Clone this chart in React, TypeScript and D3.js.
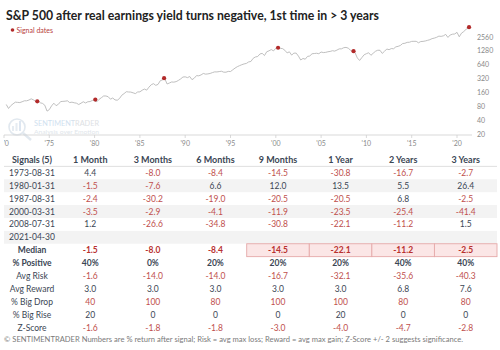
import React from 'react';
import * as d3 from 'd3';

// S&P 500, approximate quarter-end closes from 1970 Q1
const spxStartYear = 1970;
const spxQuarterly = [
  89, 73, 84, 92, 100, 99, 98, 102, 107, 107, 111, 118, 112, 104, 108, 97,
  94, 86, 64, 69, 83, 95, 84, 90, 103, 104, 105, 107, 98, 100, 97, 95,
  89, 95, 102, 96, 102, 103, 109, 108, 102, 115, 125, 136, 136, 131, 116, 123,
  112, 110, 120, 141, 153, 168, 166, 165, 159, 153, 166, 167, 181, 192, 182, 211,
  238, 251, 231, 242, 291, 304, 321, 247, 259, 273, 271, 278, 295, 318, 349, 353,
  339, 358, 306, 330, 375, 371, 388, 417, 403, 408, 417, 435, 451, 450, 458, 466,
  445, 444, 462, 459, 500, 544, 584, 615, 645, 670, 687, 740, 757, 885, 947, 970,
  1101, 1133, 1017, 1229, 1286, 1372, 1282, 1469, 1498, 1454, 1436, 1320, 1160, 1224, 1040, 1148,
  1147, 989, 815, 879, 848, 974, 995, 1111, 1126, 1140, 1114, 1211, 1180, 1191, 1228, 1248,
  1294, 1270, 1335, 1418, 1420, 1503, 1526, 1468, 1322, 1280, 1166, 903, 797, 919, 1057, 1115,
  1169, 1030, 1141, 1257, 1325, 1320, 1131, 1257, 1408, 1362, 1440, 1426, 1569, 1606, 1681, 1848,
  1872, 1960, 1972, 2058, 2067, 2063, 1920, 2043, 2059, 2098, 2168, 2238, 2362, 2423, 2519, 2673,
  2640, 2718, 2913, 2506, 2834, 2941, 2976, 3230, 2584, 3100, 3363, 3756, 3972, 4181,
];

const signalYears = [1973.67, 1980.08, 1987.67, 2000.25, 2008.58, 2021.33];
const signalValues = [104, 114, 330, 1499, 1267, 4181];

const xTickYears = [1970, 1975, 1980, 1985, 1990, 1995, 2000, 2005, 2010, 2015, 2020];
const yTicks = [20, 40, 80, 160, 320, 640, 1280, 2560];

const signalDates = ['1973-08-31', '1980-01-31', '1987-08-31', '2000-03-31', '2008-07-31', '2021-04-30'];
const horizons = ['1 Month', '3 Months', '6 Months', '9 Months', '1 Year', '2 Years', '3 Years'];

const ret1973 = [4.4, -8.0, -8.4, -14.5, -30.8, -16.7, -2.7];
const ret1980 = [-1.5, -7.6, 6.6, 12.0, 13.5, 5.5, 26.4];
const ret1987 = [-2.4, -30.2, -19.0, -20.5, -20.5, 6.8, -2.5];
const ret2000 = [-3.5, -2.9, -4.1, -11.9, -23.5, -25.4, -41.4];
const ret2008 = [1.2, -26.6, -34.8, -30.8, -22.1, -11.2, 1.5];
const ret2021: number[] = [];

const median = [-1.5, -8.0, -8.4, -14.5, -22.1, -11.2, -2.5];
const pctPositive = [40, 0, 20, 20, 20, 40, 40];
const avgRisk = [-1.6, -14.0, -14.0, -16.7, -32.1, -35.6, -40.3];
const avgReward = [3.0, 3.0, 3.0, 3.0, 3.0, 6.8, 7.6];
const bigDrop = [40, 100, 80, 100, 100, 80, 80];
const bigRise = [20, 0, 0, 0, 20, 0, 0];
const zScore = [-1.6, -1.8, -1.8, -3.0, -4.0, -4.7, -2.8];

const FONT = 'Lato, "Liberation Sans", sans-serif';
const RED = '#c0504d';
const DARK = '#3b4654';
const W = 500;
const H = 350;

export default function App() {
  const x = d3.scaleLinear().domain([1970, 2020]).range([4, 457]);
  const y = d3.scaleLog().base(2).domain([20, 2560]).range([134.5, 37]);

  const series = spxQuarterly.map((v, i) => [spxStartYear + (i + 1) * 0.25, v] as [number, number]);
  const line = d3.line<[number, number]>().x(d => x(d[0])).y(d => y(d[1]));

  const rowNames = ['header', ...signalDates, 'Median', '% Positive', 'Avg Risk', 'Avg Reward', '% Big Drop', '% Big Rise', 'Z-Score'];
  const row = d3.scaleBand<string>().domain(rowNames).range([153.5, 334]);
  const col = d3.scaleBand<string>().domain(horizons).range([59, 497]);
  const firstColX = 32;
  const rh = row.bandwidth();
  const cw = col.bandwidth();

  const signalRows = [ret1973, ret1980, ret1987, ret2000, ret2008, ret2021];
  const statRows: { name: string; vals: number[]; fmt: (v: number) => string; color: (v: number) => string; bold?: boolean }[] = [
    { name: 'Median', vals: median, fmt: v => v.toFixed(1), color: () => '#b8312f', bold: true },
    { name: '% Positive', vals: pctPositive, fmt: v => v + '%', color: () => DARK, bold: true },
    { name: 'Avg Risk', vals: avgRisk, fmt: v => v.toFixed(1), color: () => RED },
    { name: 'Avg Reward', vals: avgReward, fmt: v => v.toFixed(1), color: () => DARK },
    { name: '% Big Drop', vals: bigDrop, fmt: v => String(v), color: () => RED },
    { name: '% Big Rise', vals: bigRise, fmt: v => String(v), color: () => DARK },
    { name: 'Z-Score', vals: zScore, fmt: v => v.toFixed(1), color: () => RED },
  ];

  return (
    <svg width={W} height={H} style={{ position: 'absolute', left: 0, top: 0, background: '#fff' }} fontFamily={FONT}>
      <defs>
        <clipPath id="xlabels">
          <rect x={4} y={138} width={480} height={12} />
        </clipPath>
        <linearGradient id="wm" x1="0" x2="1" y1="0" y2="0">
          <stop offset="0.6" stopColor="#a9c7e2" />
          <stop offset="0.62" stopColor="#c0c6cc" />
        </linearGradient>
      </defs>
      <text x={6} y={19.5} fontSize={13} fontWeight="bold" fill="#222" textLength={373} lengthAdjust="spacingAndGlyphs">
        S&amp;P 500 after real earnings yield turns negative, 1st time in &gt; 3 years
      </text>
      <circle cx={12.5} cy={30} r={1.8} fill="#b22a2a" />
      <text x={16.5} y={32.5} fontSize={7} fill="#b84040">Signal dates</text>

      {/* watermark */}
      <g opacity={0.55}>
        <circle cx={17} cy={127} r={8} fill="none" stroke="#c9d6e2" strokeWidth={1.6} />
        <line x1={23} y1={133} x2={31} y2={140} stroke="#c9d6e2" strokeWidth={2.4} />
        <rect x={12} y={126} width={2} height={5} fill="#d3dde8" />
        <rect x={15.5} y={123} width={2} height={8} fill="#d3dde8" />
        <rect x={19} y={121} width={2} height={10} fill="#c2d3e6" />
        <text x={34} y={126} fontSize={8} fill="url(#wm)" textLength={65} lengthAdjust="spacingAndGlyphs">SENTIMENTRADER</text>
        <text x={34} y={134.2} fontSize={5} fill="#c6d0da" textLength={65} lengthAdjust="spacingAndGlyphs">Analysis over Emotion</text>
      </g>

      {/* x axis */}
      <line x1={4} x2={472} y1={135} y2={135} stroke="#cfcfcf" strokeWidth={0.8} />
      {xTickYears.map(t => (
        <line key={t} x1={x(t)} x2={x(t)} y1={135} y2={138} stroke="#cfcfcf" strokeWidth={0.8} />
      ))}
      <g clipPath="url(#xlabels)">
        {xTickYears.map(t => (
          <text key={t} x={x(t)} y={146} fontSize={7} fill="#8a8a8a" textAnchor="middle">{"'" + String(t).slice(2)}</text>
        ))}
      </g>
      {yTicks.map(t => (
        <text key={t} x={477} y={y(t) + 2.5} fontSize={7} fill="#8a8a8a">{t}</text>
      ))}

      <path d={line(series) ?? ''} fill="none" stroke="#b8b8b8" strokeWidth={0.9} />
      {signalYears.map((s, i) => (
        <circle key={i} cx={x(s)} cy={y(signalValues[i])} r={2.1} fill="#b22a2a" />
      ))}

      {/* table */}
      {signalDates.map((d, i) => i % 2 === 1 ? (
        <rect key={d} x={4} width={493} y={row(d)!} height={rh} fill="#f3f3f3" />
      ) : null)}
      <line x1={4} x2={497} y1={row('header')! + rh} y2={row('header')! + rh} stroke="#d8d8d8" strokeWidth={0.8} />
      <text x={firstColX} y={row('header')! + rh / 2 + 3} fontSize={9} fontWeight="bold" fill={DARK} textAnchor="middle">Signals (5)</text>
      {horizons.map(h => (
        <text key={h} x={col(h)! + cw / 2} y={row('header')! + rh / 2 + 3} fontSize={9} fontWeight="bold" fill={DARK} textAnchor="middle">{h}</text>
      ))}

      {signalDates.map((d, i) => (
        <g key={d}>
          <text x={firstColX} y={row(d)! + rh / 2 + 3} fontSize={8.5} fill={DARK} textAnchor="middle">{d}</text>
          {signalRows[i].map((v, j) => (
            <text key={j} x={col(horizons[j])! + cw / 2} y={row(d)! + rh / 2 + 3} fontSize={8.5} fill={v < 0 ? RED : DARK} textAnchor="middle">{v.toFixed(1)}</text>
          ))}
        </g>
      ))}

      {horizons.slice(3).map(h => (
        <rect key={h} x={col(h)!} y={row('Median')!} width={cw} height={rh} fill="#fbe6e6" stroke="#e5a9a9" strokeWidth={0.9} />
      ))}

      {statRows.map(r => (
        <g key={r.name}>
          <text x={firstColX} y={row(r.name)! + rh / 2 + 3} fontSize={8.5} fontWeight={r.bold ? 'bold' : 'normal'} fill={DARK} textAnchor="middle">{r.name}</text>
          {r.vals.map((v, j) => (
            <text key={j} x={col(horizons[j])! + cw / 2} y={row(r.name)! + rh / 2 + 3} fontSize={8.5} fontWeight={r.bold ? 'bold' : 'normal'} fill={r.color(v)} textAnchor="middle">{r.fmt(v)}</text>
          ))}
        </g>
      ))}

      <text x={4} y={342} fontSize={6.8} fill="#7a7a7a" textLength={459} lengthAdjust="spacingAndGlyphs">
        © SENTIMENTRADER  Numbers are % return after signal; Risk = avg max loss; Reward = avg max gain; Z-Score +/- 2 suggests significance.
      </text>
    </svg>
  );
}
